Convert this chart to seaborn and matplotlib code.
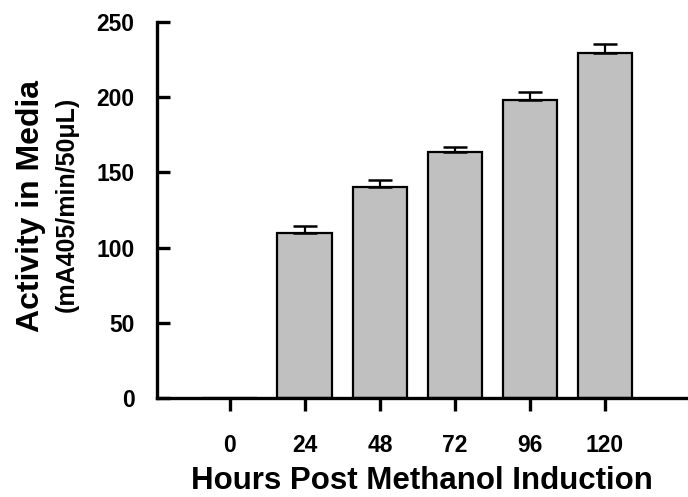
import matplotlib
matplotlib.use("Agg")
import matplotlib.pyplot as plt
import seaborn as sns
import pandas as pd

# Data
hours = ["0", "24", "48", "72", "96", "120"]
activity = [0, 110, 140.5, 163.5, 198, 229.5]
sem = [0, 4.5, 4.5, 3.5, 5.5, 6]

sns.set_style("ticks")
plt.rcParams["font.family"] = ["Liberation Sans", "DejaVu Sans"]
plt.rcParams["font.weight"] = "bold"
plt.rcParams["text.color"] = "black"
plt.rcParams["axes.labelcolor"] = "black"
plt.rcParams["xtick.color"] = "black"
plt.rcParams["ytick.color"] = "black"
plt.rcParams["axes.edgecolor"] = "black"

df = pd.DataFrame({"hours": hours, "activity": activity})

fig = plt.figure(figsize=(6.88, 4.97), dpi=100)
ax = fig.add_axes([0.228, 0.199, 0.772, 0.757])

sns.barplot(data=df, x="hours", y="activity", order=hours, color="#c0c0c0",
            width=0.73, saturation=1, edgecolor="black", linewidth=1.6, ax=ax)

# upper error bars only
ax.errorbar(range(len(hours)), activity, yerr=[[0] * len(sem), sem], fmt="none",
            ecolor="black", elinewidth=1.6, capsize=8.5, capthick=1.8, zorder=1)

ax.set_xlim(-0.973, 6.107)
ax.set_ylim(0, 250)
ax.set_yticks([0, 50, 100, 150, 200, 250])

for s in ["top", "right"]:
    ax.spines[s].set_visible(False)
for s in ["left", "bottom"]:
    ax.spines[s].set_linewidth(2.4)

ax.tick_params(axis="y", direction="in", length=9, width=2.4, pad=16, labelsize=16.5)
ax.tick_params(axis="x", direction="out", length=9, width=2.4, pad=17, labelsize=16.5)
for lab in ax.get_xticklabels() + ax.get_yticklabels():
    lab.set_fontweight("bold")

ax.set_xlabel("Hours Post Methanol Induction", fontsize=22.5, fontweight="bold", labelpad=6)
ax.set_ylabel("")

fig.text(0.045, 0.586, "Activity in Media", rotation=90, fontsize=23,
         fontweight="bold", ha="center", va="center")
fig.text(0.097, 0.588, "(mA405/min/50\u03bcL)", rotation=90, fontsize=18,
         fontweight="bold", ha="center", va="center")

fig.savefig("out.png", dpi=100)
